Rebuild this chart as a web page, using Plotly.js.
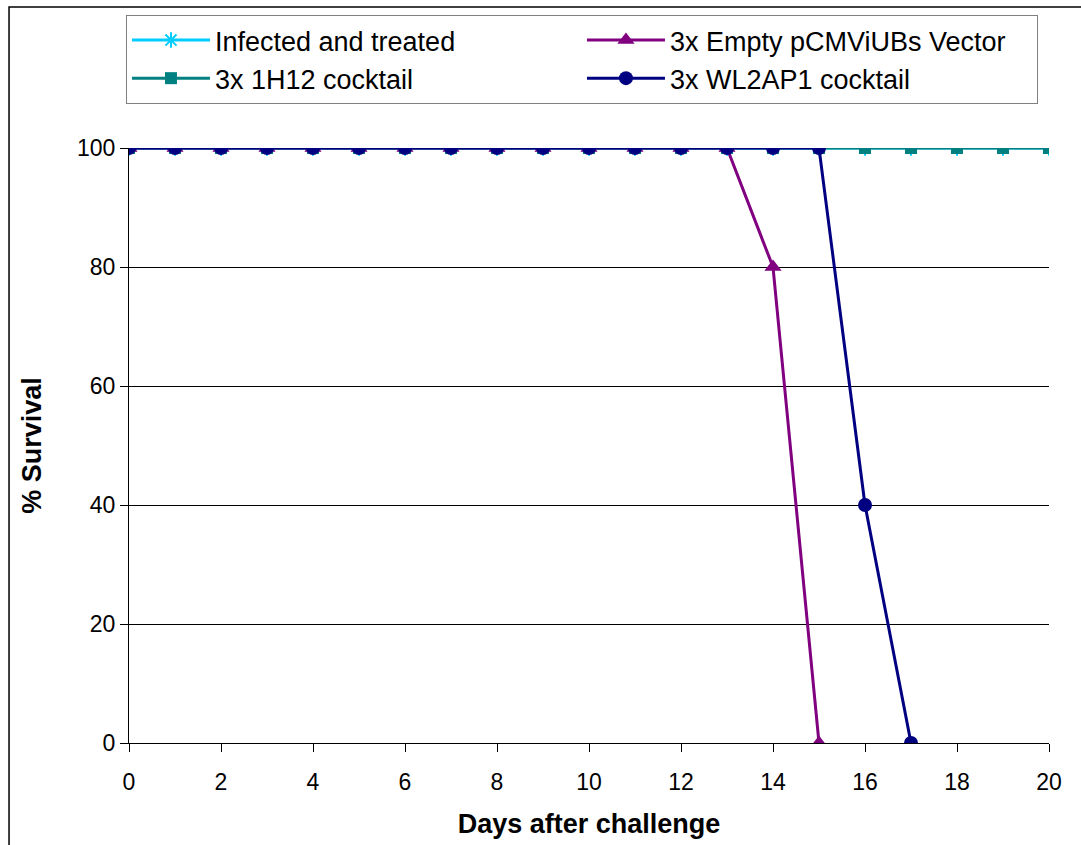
<!DOCTYPE html>
<html>
<head>
<meta charset="utf-8">
<script src="https://cdn.plot.ly/plotly-3.0.1.min.js"></script>
<style>html,body{margin:0;padding:0;background:#fff;}#chart{width:1081px;height:845px;}</style>
</head>
<body>
<div id="chart"></div>
<script>
const days = [0,1,2,3,4,5,6,7,8,9,10,11,12,13,14,15,16,17,18,19,20];
const infectedTreated = [100,100,100,100,100,100,100,100,100,100,100,100,100,100,100,100,100,100,100,100,100];
const emptyVectorDays = [0,1,2,3,4,5,6,7,8,9,10,11,12,13,14,15];
const emptyVector = [100,100,100,100,100,100,100,100,100,100,100,100,100,100,80,0];
const cocktail1H12 = [100,100,100,100,100,100,100,100,100,100,100,100,100,100,100,100,100,100,100,100,100];
const wl2ap1Days = [0,1,2,3,4,5,6,7,8,9,10,11,12,13,14,15,16,17];
const wl2ap1 = [100,100,100,100,100,100,100,100,100,100,100,100,100,100,100,100,40,0];
const seriesNames = ["Infected and treated","3x Empty pCMViUBs Vector","3x 1H12 cocktail","3x WL2AP1 cocktail"];
const xTicks = [0,2,4,6,8,10,12,14,16,18,20];
const yTicks = [0,20,40,60,80,100];

const F = "Liberation Sans, Arial, sans-serif";
const traces = [
  {x: days, y: infectedTreated, name: seriesNames[0], mode: "lines+markers",
   line: {color: "#00CCFF", width: 3},
   marker: {symbol: "asterisk-open", size: 13, color: "#00CCFF", line: {color: "#00CCFF", width: 2}}},
  {x: emptyVectorDays, y: emptyVector, name: seriesNames[1], mode: "lines+markers",
   line: {color: "#800080", width: 3},
   marker: {symbol: "triangle-up", size: 15, color: "#800080"}},
  {x: days, y: cocktail1H12, name: seriesNames[2], mode: "lines+markers",
   line: {color: "#008080", width: 3},
   marker: {symbol: "square", size: 12, color: "#008080"}},
  {x: wl2ap1Days, y: wl2ap1, name: seriesNames[3], mode: "lines+markers",
   line: {color: "#000080", width: 3},
   marker: {symbol: "circle", size: 14, color: "#000080"}}
];

const layout = {
  width: 1081, height: 845,
  margin: {l: 129, r: 32, t: 148, b: 102},
  paper_bgcolor: "#fff", plot_bgcolor: "#fff",
  font: {family: F, color: "#000", size: 22},
  showlegend: true,
  legend: {
    orientation: "h", x: -0.0033, xanchor: "left", y: 1.2235, yanchor: "top",
    bordercolor: "#808080", borderwidth: 1, bgcolor: "#fff",
    font: {family: F, size: 27, color: "#000"},
    itemwidth: 78,
    entrywidth: 362, entrywidthmode: "pixels",
    traceorder: "normal"
  },
  xaxis: {
    range: [0, 20], tickvals: xTicks, ticktext: xTicks.map(String),
    showline: true, linecolor: "#000", linewidth: 1,
    ticks: "outside", ticklen: 8, tickcolor: "#000", tickwidth: 1,
    ticklabelstandoff: 10,
    showgrid: false, zeroline: false,
    tickfont: {family: F, size: 23, color: "#000"},
    title: {text: "Days after challenge", font: {family: F, size: 27, color: "#000", weight: "bold"}, standoff: 20},
    automargin: false
  },
  yaxis: {
    range: [0, 100], tickvals: yTicks, ticktext: yTicks.map(String),
    showline: true, linecolor: "#000", linewidth: 1,
    ticks: "outside", ticklen: 8, tickcolor: "#000", tickwidth: 1,
    showgrid: true, gridcolor: "#000", gridwidth: 1, zeroline: false,
    tickfont: {family: F, size: 23, color: "#000"},
    title: {text: "% Survival", font: {family: F, size: 27, color: "#000", weight: "bold"}, standoff: 27},
    automargin: false
  },
  shapes: [
    {type: "rect", xref: "paper", yref: "paper", x0: -0.1304, x1: 1.06, y0: -0.2, y1: 1.237,
     line: {color: "#000", width: 1.5}, fillcolor: "rgba(0,0,0,0)", layer: "below"}
  ]
};

Plotly.newPlot("chart", traces, layout, {displayModeBar: false, staticPlot: true});
</script>
</body>
</html>
